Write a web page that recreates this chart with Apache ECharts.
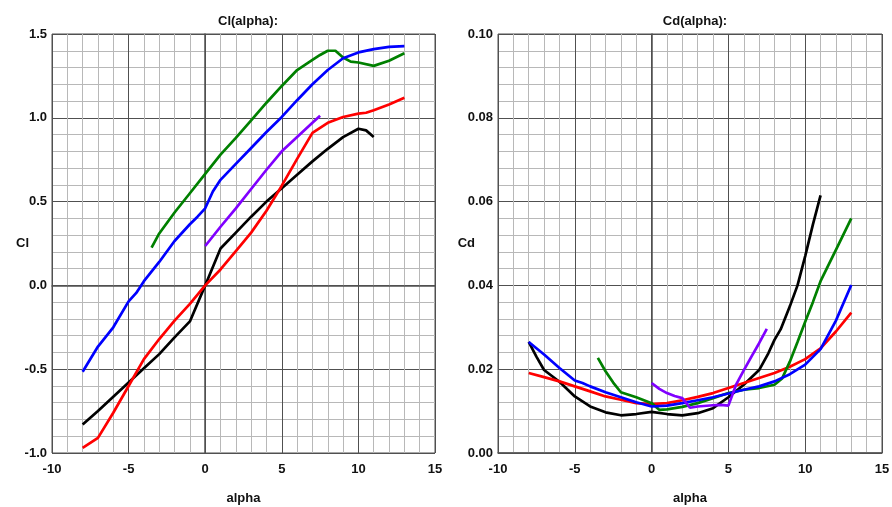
<!DOCTYPE html>
<html>
<head>
<meta charset="utf-8">
<script src="https://cdn.jsdelivr.net/npm/echarts@6/dist/echarts.min.js"></script>
<style>html,body{margin:0;padding:0;background:#fff}#c{width:892px;height:507px}</style>
</head>
<body>
<div id="c"></div>
<script>
// ---- Cl(alpha) data ----
const clBlackA = [-8,-7,-6,-5,-4,-3,-2,-1,0,1,2,3,4,5,6,7,8,9,10,10.5,11];
const clBlack  = [-0.83,-0.75,-0.665,-0.58,-0.495,-0.41,-0.31,-0.215,0.0,0.22,0.315,0.41,0.50,0.58,0.66,0.74,0.815,0.885,0.935,0.925,0.885];
const clRedA = [-8,-7,-6,-5,-4,-3,-2,-1,0,1,2,3,4,5,6,7,8,9,10,10.5,11,12,13];
const clRed  = [-0.97,-0.91,-0.76,-0.60,-0.44,-0.32,-0.21,-0.11,0.0,0.095,0.205,0.315,0.445,0.595,0.755,0.91,0.97,1.005,1.025,1.03,1.045,1.08,1.12];
const clGreenA = [-3.5,-3,-2,-1,0,1,2,3,4,5,6,7,7.5,8,8.5,9,9.5,10,11,12,13];
const clGreen  = [0.225,0.31,0.435,0.55,0.665,0.78,0.88,0.985,1.09,1.19,1.285,1.345,1.375,1.40,1.40,1.36,1.335,1.33,1.31,1.34,1.385];
const clBlueA = [-8,-7,-6,-5,-4.5,-4,-3,-2,-1,-0.5,0,0.5,1,2,3,4,5,6,7,8,9,10,11,12,13];
const clBlue  = [-0.515,-0.365,-0.25,-0.095,-0.045,0.025,0.14,0.265,0.365,0.41,0.46,0.56,0.63,0.725,0.82,0.915,1.005,1.105,1.20,1.285,1.355,1.39,1.41,1.423,1.428];
const clPurpleA = [0,1,2,3,4,5,6,7,7.5];
const clPurple  = [0.235,0.35,0.46,0.575,0.69,0.80,0.885,0.97,1.012];

// ---- Cd(alpha) data ----
const cdBlackA = [-8,-7.5,-7,-6,-5,-4,-3,-2,-1,0,1,2,3,4,5,6,7,7.6,8,8.4,9,9.5,10,10.5,11];
const cdBlack  = [0.0265,0.023,0.0198,0.017,0.0135,0.0111,0.0097,0.009,0.0093,0.0098,0.0093,0.009,0.0095,0.0107,0.0133,0.0163,0.0198,0.0238,0.027,0.0295,0.035,0.040,0.047,0.0545,0.0615];
const cdRedA = [-8,-7,-6,-5,-4,-3,-2,-1,0,1,2,3,4,5,6,7,8,9,10,11,12,13];
const cdRed  = [0.0191,0.0181,0.0171,0.0159,0.0147,0.0135,0.0127,0.0119,0.0117,0.0119,0.0126,0.0134,0.0143,0.0155,0.0167,0.0179,0.0191,0.0206,0.0224,0.025,0.029,0.0335];
const cdGreenA = [-3.5,-3,-2.5,-2,-1,0,0.5,1,2,3,4,5,6,7,8,8.5,9,9.5,10,10.5,11,12,13];
const cdGreen  = [0.0227,0.0195,0.0168,0.0145,0.0133,0.0119,0.0103,0.0104,0.011,0.0119,0.0131,0.0143,0.0151,0.0155,0.0163,0.0178,0.0218,0.0265,0.0313,0.036,0.041,0.0485,0.056];
const cdBlueA = [-8,-7,-6,-5,-4.5,-4,-3,-2,-1,0,1,2,3,4,5,6,7,8,9,10,11,12,13];
const cdBlue  = [0.0265,0.0235,0.0203,0.0173,0.0167,0.0159,0.0145,0.0133,0.0121,0.0111,0.0113,0.0119,0.0126,0.0133,0.0142,0.0151,0.0159,0.0171,0.0188,0.0211,0.0248,0.0316,0.0401];
const cdPurpleA = [0,0.5,1,1.5,2,2.5,3,4,4.5,5,5.5,6,6.5,7,7.5];
const cdPurple  = [0.0167,0.0153,0.0143,0.0136,0.0131,0.0108,0.0111,0.0114,0.0115,0.0113,0.0163,0.0197,0.023,0.0262,0.0296];

// ---- axis ticks ----
const xMin = -10, xMax = 15, xStep = 5;
const clMin = -1.0, clMax = 1.5, clStep = 0.5;
const cdMin = 0.0, cdMax = 0.10, cdStep = 0.02;

const colors = {black:'#000000', red:'#ff0000', green:'#008000', blue:'#0000ff', purple:'#8000ff'};
const zip = (a, b) => a.map((x, i) => [x, b[i]]);
const font = 'Liberation Sans, Arial, sans-serif';
const fs = 13;

function xAxis(gi) {
  return {
    gridIndex: gi, type: 'value', min: xMin, max: xMax, interval: xStep,
    name: 'alpha', nameLocation: 'middle', nameGap: 39, nameMoveOverlap: false,
    nameTextStyle: {fontFamily: font, fontWeight: 'bold', fontSize: fs, color: '#111'},
    axisLine: {show: true, lineStyle: {color: '#505050', width: 1.5}},
    axisTick: {show: false},
    axisLabel: {fontFamily: font, fontWeight: 'bold', fontSize: fs, color: '#111', margin: 10},
    splitLine: {show: true, lineStyle: {color: '#505050', width: 1}},
    minorTick: {show: false, splitNumber: 5},
    minorSplitLine: {show: true, lineStyle: {color: '#b8b8b8', width: 1}}
  };
}
function yAxis(gi, mn, mx, st, nm, dec) {
  return {
    gridIndex: gi, type: 'value', min: mn, max: mx, interval: st,
    name: nm, nameLocation: 'middle', nameRotate: 0, nameGap: 23, nameMoveOverlap: false,
    nameTextStyle: {fontFamily: font, fontWeight: 'bold', fontSize: fs, color: '#111',
      padding: [12, 0, 0, 0]},
    axisLine: {show: true, lineStyle: {color: '#505050', width: 1.5}},
    axisTick: {show: false},
    axisLabel: {fontFamily: font, fontWeight: 'bold', fontSize: fs, color: '#111', margin: 5,
      formatter: v => v.toFixed(dec)},
    splitLine: {show: true, lineStyle: {color: '#505050', width: 1}},
    minorTick: {show: false, splitNumber: 5},
    minorSplitLine: {show: true, lineStyle: {color: '#b8b8b8', width: 1}}
  };
}
function line(xi, name, a, v, c) {
  return {type: 'line', name: name, xAxisIndex: xi, yAxisIndex: xi, data: zip(a, v),
    symbol: 'none', smooth: false, lineStyle: {color: c, width: 2.7}, itemStyle: {color: c},
    animation: false};
}

const chart = echarts.init(document.getElementById('c'), null, {renderer: 'canvas'});
chart.setOption({
  backgroundColor: '#fff',
  animation: false,
  title: [
    {text: 'Cl(alpha):', left: 243, top: 10, textAlign: 'center',
      textStyle: {fontFamily: font, fontWeight: 'bold', fontSize: fs, color: '#111'}},
    {text: 'Cd(alpha):', left: 690, top: 10, textAlign: 'center',
      textStyle: {fontFamily: font, fontWeight: 'bold', fontSize: fs, color: '#111'}}
  ],
  grid: [
    {left: 52, right: 457, top: 34, bottom: 54, show: true, borderColor: '#505050', borderWidth: 1,
      outerBoundsMode: 'none', containLabel: false},
    {left: 498, right: 10, top: 34, bottom: 54, show: true, borderColor: '#505050', borderWidth: 1,
      outerBoundsMode: 'none', containLabel: false}
  ],
  xAxis: [xAxis(0), xAxis(1)],
  yAxis: [yAxis(0, clMin, clMax, clStep, 'Cl', 1), yAxis(1, cdMin, cdMax, cdStep, 'Cd', 2)],
  series: [
    line(0, 'black', clBlackA, clBlack, colors.black),
    line(0, 'red', clRedA, clRed, colors.red),
    line(0, 'green', clGreenA, clGreen, colors.green),
    line(0, 'blue', clBlueA, clBlue, colors.blue),
    line(0, 'purple', clPurpleA, clPurple, colors.purple),
    line(1, 'black', cdBlackA, cdBlack, colors.black),
    line(1, 'red', cdRedA, cdRed, colors.red),
    line(1, 'green', cdGreenA, cdGreen, colors.green),
    line(1, 'blue', cdBlueA, cdBlue, colors.blue),
    line(1, 'purple', cdPurpleA, cdPurple, colors.purple)
  ]
});
</script>
</body>
</html>
